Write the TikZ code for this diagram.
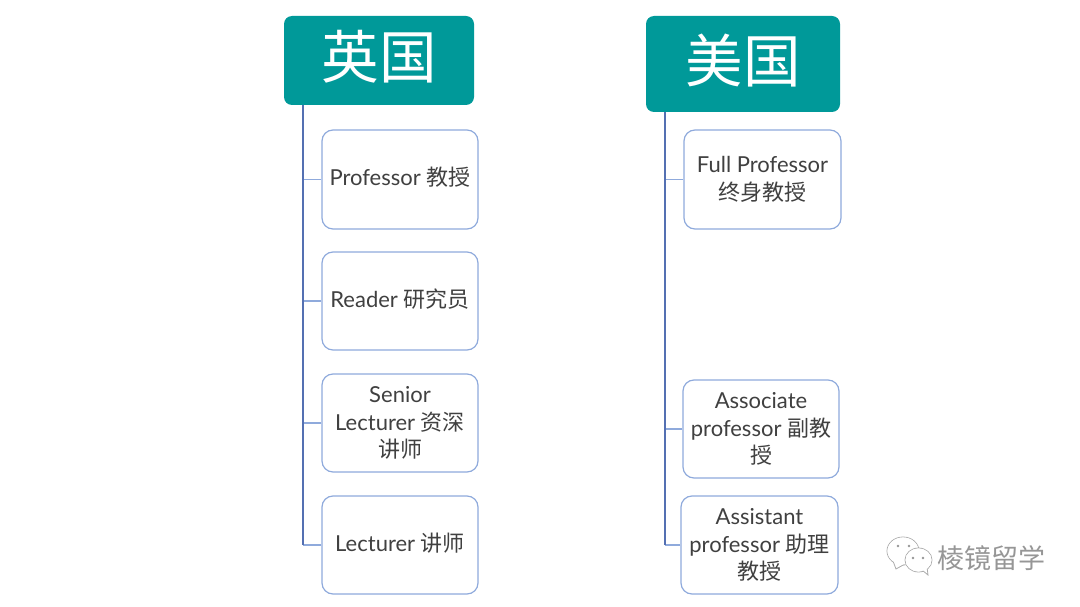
\documentclass[tikz,border=0pt]{standalone}
\usepackage{fontspec}
\setmainfont{Lato}
\newfontfamily\cjk{Noto Sans CJK SC}
\definecolor{headteal}{RGB}{0,153,153}
\definecolor{boxblue}{RGB}{143,170,220}
\definecolor{spineblue}{RGB}{84,112,178}
\definecolor{markgray}{RGB}{150,150,150}
\newcommand{\lift}[1]{\raisebox{6pt}{#1}}
\usetikzlibrary{positioning,calc}
\begin{document}
\begin{tikzpicture}[
  x=1pt, y=-1pt,
  head/.style ={fill=headteal, rounded corners=8pt, inner sep=0pt, text=white,
                font=\cjk\fontsize{57.5}{62}\selectfont},
  rank/.style ={draw=boxblue, fill=white, line width=1.2pt, rounded corners=11pt, inner sep=0pt,
                align=center, text=black!75, font=\fontsize{22}{27.5}\selectfont},
  fl/.style   ={draw=boxblue, line width=1.2pt},
  spine/.style={draw=spineblue, line width=1.8pt},
  wmark/.style={draw=markgray!80, fill=white, line width=0.8pt}]
\useasboundingbox (0,0) rectangle (1080,607);

\node[head, minimum width=190pt, minimum height=89pt] (uk) at (379,60.5) {\raisebox{12pt}{英国}};
\node[head, minimum width=194pt, minimum height=96pt] (us) at (743,64) {\raisebox{12pt}{美国}};

\node[rank, minimum width=156pt, minimum height=99pt] (prof) at (400,179.5) {\lift{Professor {\cjk 教授}}};
\node[rank, minimum width=156pt, minimum height=98pt] (read) at (400,301) {\lift{Reader {\cjk 研究员}}};
\node[rank, minimum width=156pt, minimum height=98pt] (sen) at (400,423) {Senior\\Lecturer {\cjk 资深}\\{\cjk 讲师}};
\node[rank, minimum width=156pt, minimum height=98pt] (lec) at (400,545) {\lift{Lecturer {\cjk 讲师}}};

\node[rank, minimum width=157pt, minimum height=99pt] (full) at (762.5,179.5) {Full Professor\\{\cjk 终身教授}};
\node[rank, minimum width=156pt, minimum height=98pt] (asso) at (761,429) {Associate\\professor {\cjk 副教}\\{\cjk 授}};
\node[rank, minimum width=157pt, minimum height=98pt] (asst) at (759.5,545) {Assistant\\professor {\cjk 助理}\\{\cjk 教授}};

\coordinate (uktop) at ($(uk.south west)+(19.5,0)$);
\coordinate (ustop) at ($(us.south west)+(19.5,0)$);

\foreach \a in {prof,read,sen,lec}
  \draw[fl] (\a.west) -- (\a.west -| uktop);
\foreach \a in {full,asso,asst}
  \draw[fl] (\a.west) -- (\a.west -| ustop);
\draw[spine] (uktop) -- (uktop |- lec.west);
\draw[spine] (ustop) -- (ustop |- asst.west);

% watermark
\path[wmark] (903,551) ellipse (16 and 14);
\path[wmark] (893,561) -- (896,569) -- (905,564) -- cycle;
\draw[draw=none, fill=white] (903,551) ellipse (15.5 and 13.5);
\path[wmark] (918.5,560) ellipse (13.5 and 12);
\path[wmark] (922,570) -- (928,575) -- (927,567) -- cycle;
\draw[draw=none, fill=white] (918.5,560) ellipse (13 and 11.5);
\fill[markgray] (898,546) circle (1.3) (909,546) circle (1.3) (913,558) circle (1.3) (923,558) circle (1.3);
\node[text=markgray, inner sep=0pt, font=\cjk\fontsize{27}{29}\selectfont] (brand) at (991.5,558.5) {棱镜留学};
\end{tikzpicture}
\end{document}
